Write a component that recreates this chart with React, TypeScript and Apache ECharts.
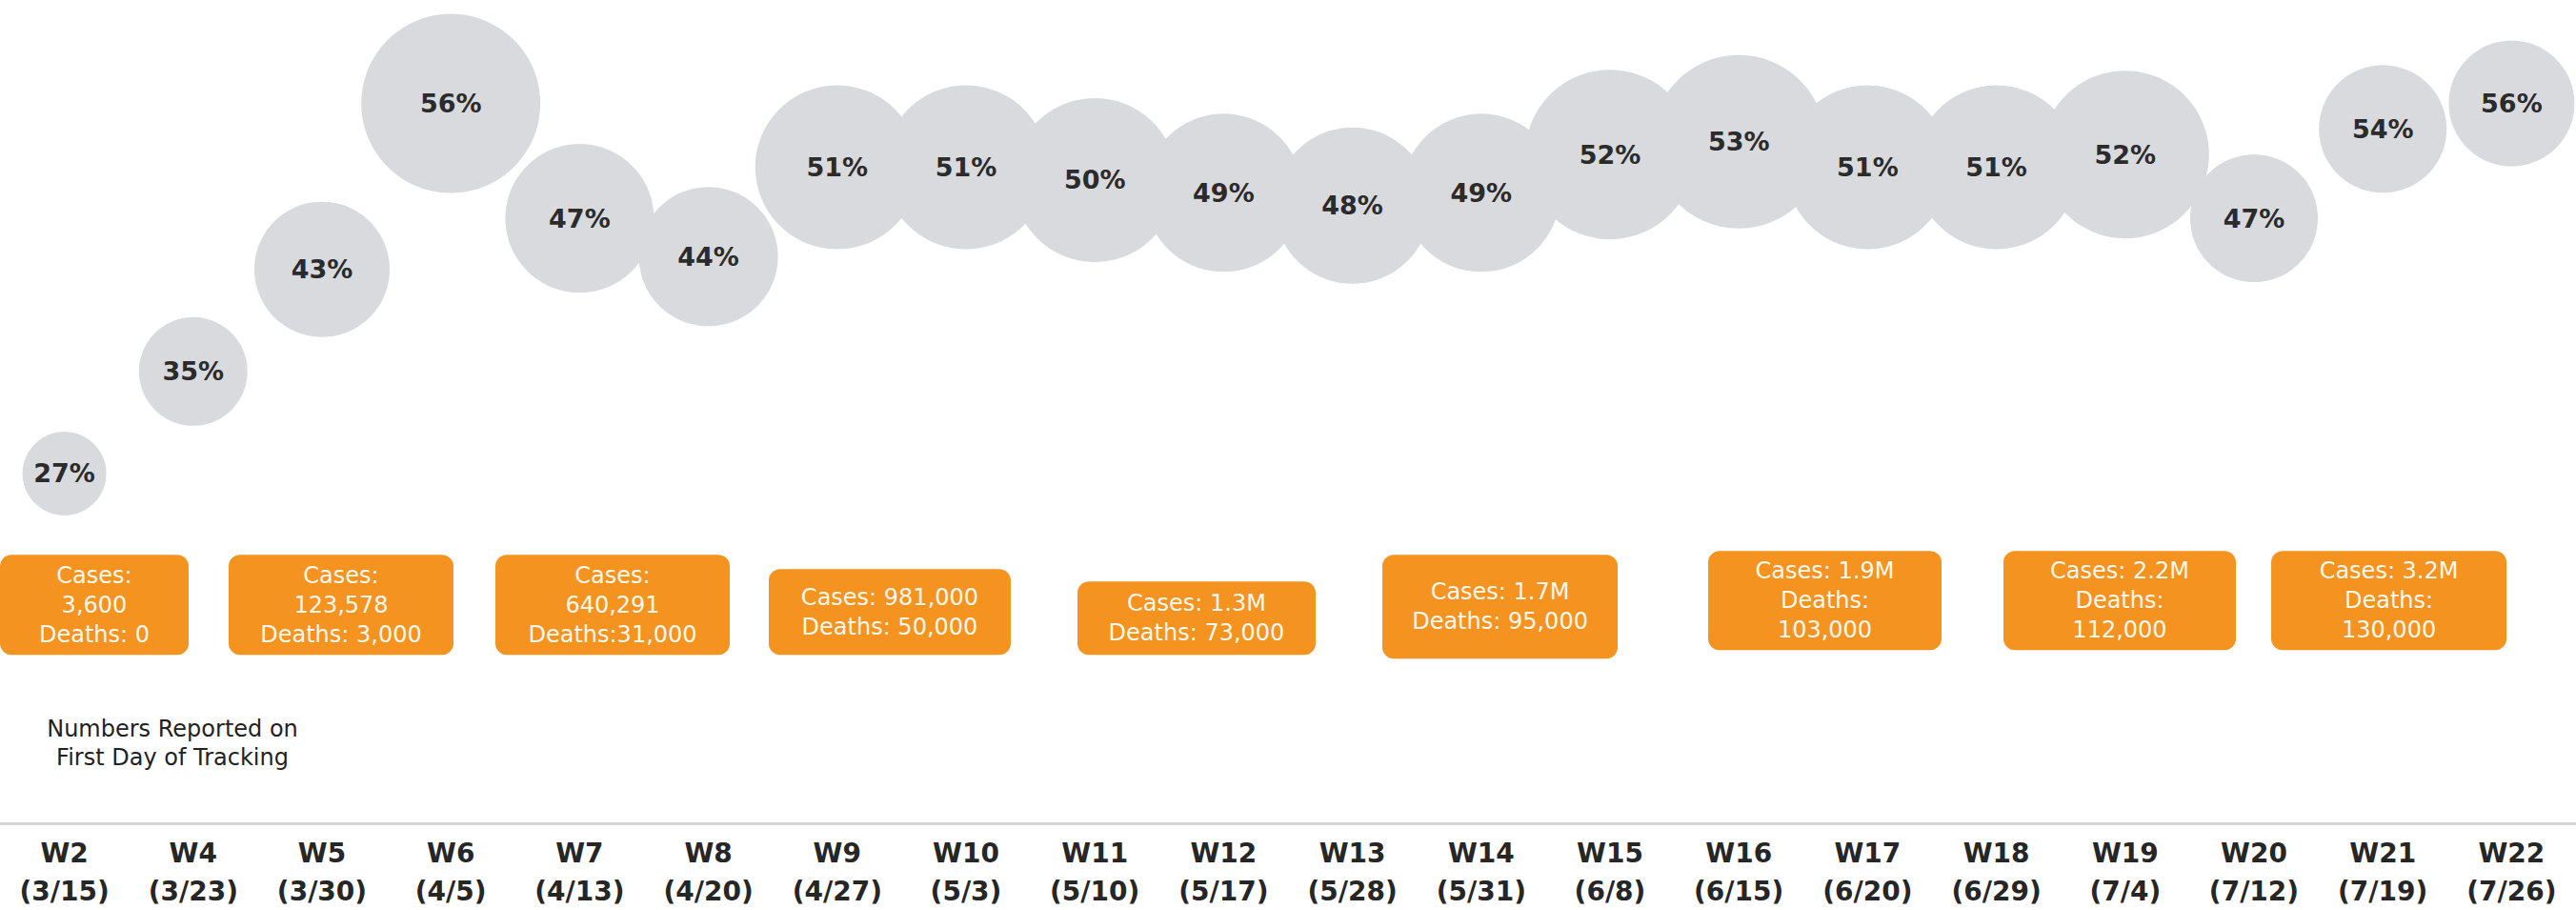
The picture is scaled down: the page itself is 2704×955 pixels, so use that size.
import React, { useEffect, useRef } from "react";
import * as echarts from "echarts";

// ---- Data ----
const weeks = ["W2", "W4", "W5", "W6", "W7", "W8", "W9", "W10", "W11", "W12", "W13", "W14", "W15", "W16", "W17", "W18", "W19", "W20", "W21", "W22"];
const weekDates = ["3/15", "3/23", "3/30", "4/5", "4/13", "4/20", "4/27", "5/3", "5/10", "5/17", "5/28", "5/31", "6/8", "6/15", "6/20", "6/29", "7/4", "7/12", "7/19", "7/26"];
const percentValues = [27, 35, 43, 56, 47, 44, 51, 51, 50, 49, 48, 49, 52, 53, 51, 51, 52, 47, 54, 56];
// relative bubble magnitude (rendered radius units)
const bubbleMagnitude = [44, 57, 71, 94, 78, 73, 86, 86, 86, 83, 82, 83, 89, 91, 86, 86, 88, 67, 67, 66];

// annotation boxes: text and the (fractional) week position they sit at
const boxTexts = [
  "Cases:\n3,600\nDeaths: 0",
  "Cases:\n123,578\nDeaths: 3,000",
  "Cases:\n640,291\nDeaths:31,000",
  "Cases: 981,000\nDeaths: 50,000",
  "Cases: 1.3M\nDeaths: 73,000",
  "Cases: 1.7M\nDeaths: 95,000",
  "Cases: 1.9M\nDeaths:\n103,000",
  "Cases: 2.2M\nDeaths:\n112,000",
  "Cases: 3.2M\nDeaths:\n130,000",
];
const boxWeekPos = [0.232, 2.148, 4.256, 6.408, 8.79, 11.146, 13.668, 15.957, 18.047];

const noteText = "Numbers Reported on\nFirst Day of Tracking";

// ---- Layout (styling only): vertical anchor on the value axis, box width/height in px ----
const boxLayout = [
  { y: 16.71, w: 198, h: 105 },
  { y: 16.71, w: 236, h: 105 },
  { y: 16.71, w: 246, h: 105 },
  { y: 16.15, w: 254, h: 90 },
  { y: 15.67, w: 250, h: 77 },
  { y: 16.56, w: 247, h: 109 },
  { y: 17.05, w: 245, h: 104 },
  { y: 17.05, w: 244, h: 104 },
  { y: 17.05, w: 247, h: 104 },
];

const FONT = "'DejaVu Sans', 'Liberation Sans', Arial, sans-serif";
const BOX_LINE = 31;

export default function App() {
  const ref = useRef<HTMLDivElement>(null);

  useEffect(() => {
    if (!ref.current) return;
    const chart = echarts.init(ref.current, null, { renderer: "svg" });

    const bubbleData = percentValues.map((v, i) => [i, v, bubbleMagnitude[i]]);

    const boxData = boxTexts.map((t, i) => {
      const lines = t.split("\n").length;
      const L = boxLayout[i];
      const pv = Math.max(0, (L.h - lines * BOX_LINE) / 2);
      return {
        value: [boxWeekPos[i], L.y],
        label: { width: L.w, padding: [pv, 0, pv, 0] },
      };
    });

    chart.setOption({
      animation: false,
      backgroundColor: "#ffffff",
      grid: { left: 0, right: 0, top: 28.2, bottom: 90, containLabel: false },
      xAxis: [
        {
          type: "category",
          data: weeks,
          boundaryGap: true,
          axisLine: { show: true, onZero: false, lineStyle: { color: "#d4d4d4", width: 3 } },
          axisTick: { show: false },
          splitLine: { show: false },
          axisLabel: {
            interval: 0,
            margin: 11,
            formatter: (v: string, i: number) => `${v}\n(${weekDates[i]})`,
            fontFamily: FONT,
            fontSize: 28,
            fontWeight: "bold",
            lineHeight: 40,
            color: "#262626",
          },
        },
        { type: "value", min: -0.5, max: 19.5, show: false },
      ],
      yAxis: { type: "value", min: -0.4, max: 62, show: false },
      series: [
        {
          type: "scatter",
          xAxisIndex: 0,
          data: bubbleData,
          symbol: "circle",
          symbolSize: (d: number[]) => d[2] * 2,
          itemStyle: { color: "#d9dadd", opacity: 1 },
          label: {
            show: true,
            position: "inside",
            formatter: (p: any) => `${p.value[1]}%`,
            fontFamily: FONT,
            fontSize: 27,
            fontWeight: "bold",
            color: "#2b2b2b",
          },
          emphasis: { disabled: true },
          z: 2,
        },
        {
          type: "scatter",
          xAxisIndex: 1,
          data: boxData,
          symbolSize: 1,
          itemStyle: { color: "rgba(0,0,0,0)", opacity: 1 },
          label: {
            show: true,
            position: "inside",
            formatter: (p: any) => boxTexts[p.dataIndex],
            fontFamily: FONT,
            fontSize: 24,
            lineHeight: BOX_LINE,
            color: "#fff8ee",
            backgroundColor: "#f4931f",
            borderRadius: 12,
            align: "center",
            verticalAlign: "middle",
            opacity: 1,
          },
          emphasis: { disabled: true },
          z: 3,
        },
      ],
      graphic: [
        {
          type: "text",
          x: 181,
          y: 750,
          style: {
            text: noteText,
            fill: "#222222",
            fontFamily: FONT,
            fontSize: 24,
            lineHeight: 30,
            align: "center",
            verticalAlign: "top",
          },
        },
      ],
    });

    return () => chart.dispose();
  }, []);

  return (
    <div
      ref={ref}
      style={{ position: "absolute", left: 0, top: 0, width: 2704, height: 955 }}
    />
  );
}
